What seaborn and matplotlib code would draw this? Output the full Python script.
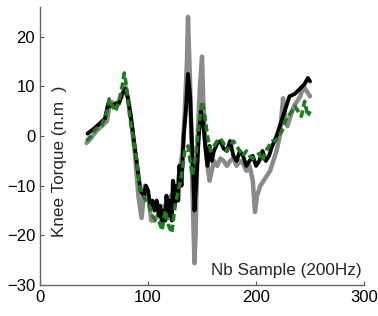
import numpy as np
import pandas as pd
import seaborn as sns
import matplotlib.pyplot as plt

# gray trace
gray_x = [43, 47, 52, 57, 62, 65, 69, 73, 76, 79, 82, 85, 88, 91, 94, 97, 100, 103, 106, 109,
          112, 115, 118, 121, 124, 127, 130, 132, 134, 136, 137, 139, 141, 143, 144, 146, 148, 150, 151, 153,
          155, 157, 159, 161, 164, 167, 170, 173, 176, 179, 182, 185, 188, 191, 194, 197, 199, 201, 204, 207,
          210, 213, 216, 219, 222, 225, 227, 229, 232, 235, 238, 241, 244, 247, 250]
gray_y = [-1.4, -0.5, 1, 2, 3, 7, 6.5, 7, 8, 10, 7, 2, -4, -12, -16.5, -10, -12, -17, -17, -16,
          -16, -14, -15, -12, -14, -10, -6, -3, 5, 15, 24, 10, -10, -25.6, -20, 0, 10, 16, 8, -2,
          -6, -9, -7, -5, -6, -4.5, -5, -6, -5, -4.5, -6, -5, -5.5, -7, -6, -9, -15.3, -12, -10, -9,
          -8, -7, -5, -3, 0, 7.6, 4, 2, 4, 6, 7, 8, 10, 9, 8]

# black trace
black_x = [44, 50, 55, 60, 63, 66, 70, 73, 76, 79, 81, 84, 87, 90, 93, 96, 98, 100, 102, 104,
           106, 108, 110, 111, 113, 114, 116, 117, 119, 120, 122, 123, 125, 126, 128, 129, 131, 133, 135, 137,
           139, 141, 143, 145, 147, 149, 151, 153, 155, 157, 159, 161, 164, 167, 170, 173, 176, 179, 182, 185,
           188, 191, 194, 197, 200, 203, 206, 209, 212, 215, 219, 222, 225, 228, 231, 236, 241, 245, 248, 250]
black_y = [0.5, 1.5, 2.5, 3.5, 6.5, 6, 6.5, 6.5, 8.5, 9.5, 8, 4, -1, -6, -11, -12, -10, -11, -14, -13,
           -15, -13, -16, -14, -18, -15, -17, -12, -16, -13, -17, -9, -14, -10, -13, -6, -10, 0, 5, 12.5,
           8, -3, -15, -8, 0, 5, 3, -2, -6, -2, -5, -3, -1.5, -1, -2.5, -3, -1, -4, -5, -3,
           -4, -6, -5, -4, -6, -5, -3, -5, -4, -2, 0, 2, 4, 6, 8, 8.5, 9.6, 10.5, 11.7, 11]

# green trace
green_x = [43, 47, 52, 57, 62, 64, 67, 70, 73, 76, 78, 80, 83, 86, 89, 92, 95, 98, 101, 104,
           107, 110, 113, 116, 119, 122, 125, 128, 131, 134, 137, 139, 141, 144, 147, 150, 152, 155, 158, 161,
           164, 167, 170, 173, 176, 179, 182, 185, 188, 191, 194, 197, 200, 203, 206, 209, 212, 215, 218, 221,
           224, 227, 230, 233, 236, 239, 242, 245, 248, 250]
green_y = [-1, 0, 1.5, 2, 5, 7.5, 6, 5, 7, 10, 12.7, 10, 4, 0, -4, -10, -12, -13, -14, -16,
           -17, -17, -19, -15, -18, -19.5, -14, -11, -8, -3, -2, -5, -8, -4, 2, 7, 5, 0, -3, -2,
           -1, -0.5, -1.5, -3, -2, -1, -2, -3, -4, -3, -4, -4.5, -4, -3.5, -5, -3, -2, -1, -1, 0,
           1, 3, 4, 5, 6, 5, 4, 7, 4, 5]

sns.set_style("ticks")
plt.rcParams['font.family'] = ['Liberation Sans', 'DejaVu Sans']

fig = plt.figure(figsize=(3.78, 3.16), dpi=100)
ax = fig.add_axes([0.106, 0.098, 0.857, 0.88])

sns.lineplot(x=gray_x, y=gray_y, color='#8a8a8a', linewidth=3.2, ax=ax)
sns.lineplot(x=black_x, y=black_y, color='black', linewidth=2.8, ax=ax)
sns.lineplot(x=green_x, y=green_y, color='#1f7a1f', linewidth=2.6, linestyle=(0, (2, 1)), ax=ax)

ax.set_xlim(0, 300)
ax.set_ylim(-30, 26)
ax.set_xticks([0, 100, 200, 300])
ax.set_yticks([-30, -20, -10, 0, 10, 20])
ax.tick_params(direction='in', length=3, labelsize=12, colors='#555555', labelcolor='black')
sns.despine(ax=ax)
for s in ['left', 'bottom']:
    ax.spines[s].set_color('#666666')
    ax.spines[s].set_linewidth(1.0)

ax.text(18, -5, 'Knee Torque (n.m  )', rotation=90, ha='center', va='center', fontsize=12.3)
ax.text(298, -27, 'Nb Sample (200Hz)', ha='right', va='center', fontsize=12.3)

plt.savefig('out.png', dpi=100)
